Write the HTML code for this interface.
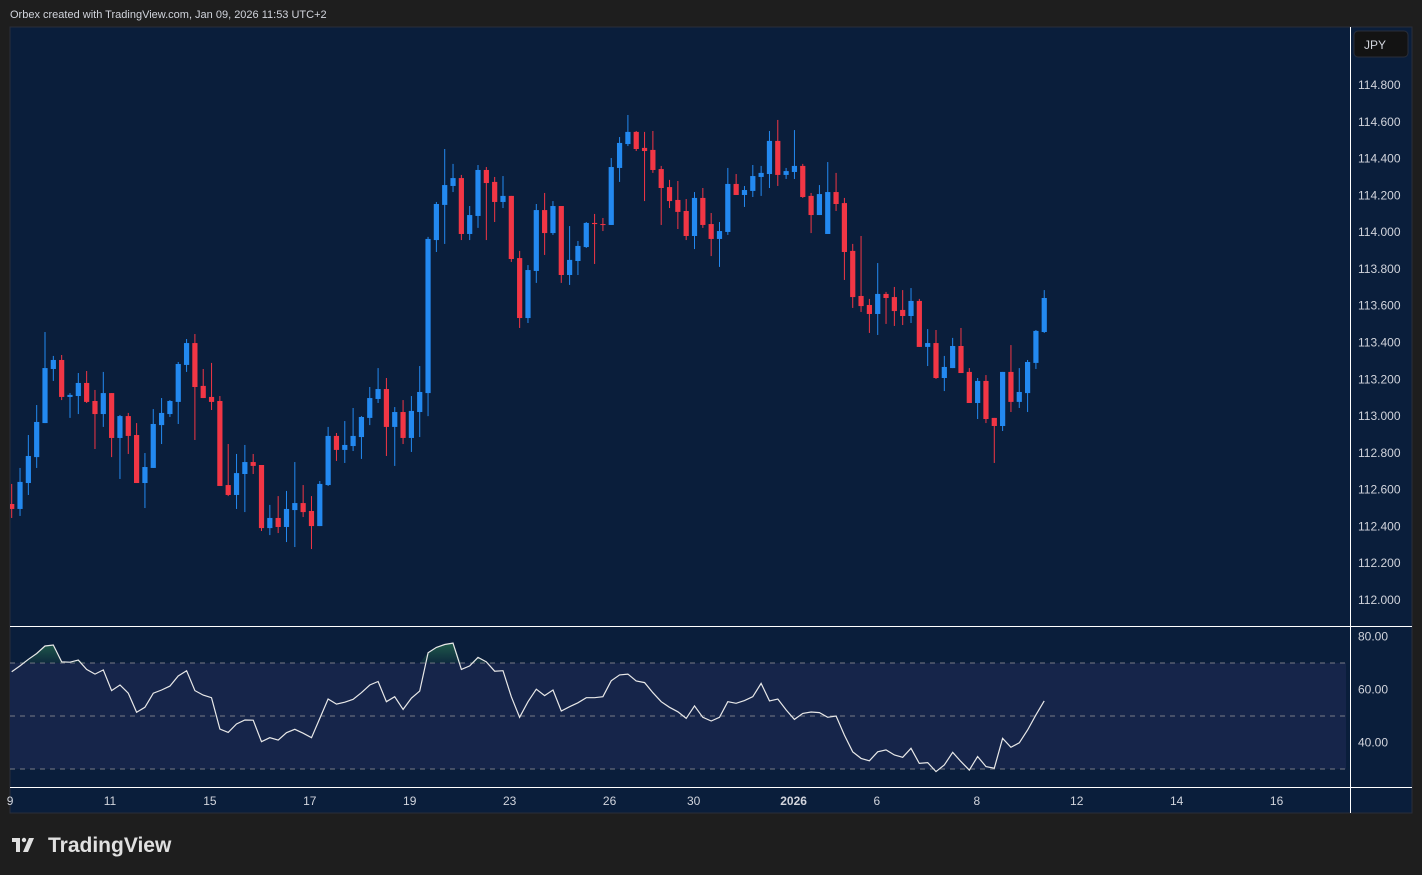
<!DOCTYPE html>
<html><head><meta charset="utf-8"><style>
html,body{margin:0;padding:0;background:#1e1e1e;width:1422px;height:875px;overflow:hidden;font-family:"Liberation Sans",sans-serif}
svg{display:block}
</style></head><body>
<svg id="c" width="1422" height="875" xmlns="http://www.w3.org/2000/svg">
<rect x="0" y="0" width="1422" height="875" fill="#1e1e1e"/>
<text x="10" y="18" fill="#d1d4dc" font-size="11">Orbex created with TradingView.com, Jan 09, 2026 11:53 UTC+2</text>
<rect x="10" y="27" width="1402" height="786" fill="#0a1e3b" stroke="#2a2e39" stroke-width="1"/>
<g id="rsiband"></g>
<g id="grid"></g>
<g id="candles"></g>
<g id="rsi"></g>
<line x1="10" y1="626.5" x2="1412" y2="626.5" stroke="#ffffff" stroke-width="1"/>
<line x1="10" y1="787.5" x2="1412" y2="787.5" stroke="#ffffff" stroke-width="1"/>
<line x1="1350.5" y1="27" x2="1350.5" y2="813" stroke="#ffffff" stroke-width="1"/>
<g id="axes"></g>
<rect x="1354" y="31" width="54" height="26" rx="4" fill="#131313" stroke="#2a2e39"/>
<text x="1364" y="49" fill="#d1d4dc" font-size="12">JPY</text>
<g>
<rect x="12" y="838" width="8" height="4" fill="#e0e0e0"/>
<rect x="16" y="838" width="4" height="14" fill="#e0e0e0"/>
<circle cx="24" cy="840" r="2.2" fill="#e0e0e0"/>
<polygon points="29,838 34,838 28,852 23,852" fill="#e0e0e0"/>
<text x="48" y="852" fill="#e0e0e0" font-size="21" font-weight="bold">TradingView</text>
</g>
</svg>
<script>
const opens=[112.522,112.495,112.636,112.777,112.962,113.256,113.305,113.104,113.109,113.180,113.082,113.011,113.125,112.881,113.000,112.897,112.636,112.718,112.951,113.011,113.077,113.278,113.397,113.164,113.104,113.082,112.625,112.571,112.685,112.750,112.734,112.391,112.446,112.397,112.489,112.527,112.484,112.402,112.625,112.892,112.816,112.837,112.886,112.990,113.093,113.147,112.941,113.022,112.881,113.022,113.125,113.957,114.148,114.251,114.294,113.990,114.088,114.338,114.273,114.164,114.197,113.859,113.533,113.789,114.120,113.995,114.142,113.767,113.843,113.919,114.050,114.044,114.039,114.349,114.479,114.545,114.458,114.447,114.343,114.245,114.175,114.115,113.979,114.186,114.044,113.963,114.001,114.262,114.202,114.224,114.300,114.316,114.496,114.311,114.327,114.360,114.197,114.093,113.990,114.218,114.158,113.898,113.653,113.604,113.555,113.664,113.647,113.577,113.544,113.626,113.376,113.397,113.207,113.261,113.381,113.240,113.071,113.191,112.990,112.946,113.240,113.077,113.125,113.289,113.457];
const highs=[112.631,112.718,112.897,113.060,113.457,113.327,113.332,113.125,113.234,113.245,113.142,113.240,113.125,113.006,113.017,112.962,112.799,113.038,113.098,113.087,113.294,113.419,113.446,113.256,113.289,113.109,112.848,112.794,112.843,112.794,112.734,112.517,112.565,112.593,112.750,112.625,112.565,112.647,112.941,112.908,112.973,113.044,113.000,113.158,113.261,113.207,113.049,113.087,113.109,113.272,113.974,114.164,114.452,114.371,114.311,114.142,114.365,114.354,114.300,114.305,114.197,113.898,113.821,114.153,114.213,114.169,114.142,114.033,113.952,114.055,114.099,114.077,114.403,114.517,114.637,114.550,114.545,114.550,114.360,114.284,114.278,114.180,114.218,114.240,114.104,114.055,114.349,114.316,114.251,114.365,114.360,114.550,114.610,114.349,114.555,114.371,114.213,114.256,114.381,114.322,114.186,113.936,113.979,113.637,113.832,113.675,113.702,113.685,113.696,113.637,113.473,113.468,113.327,113.425,113.479,113.261,113.207,113.223,112.990,113.240,113.386,113.261,113.305,113.468,113.685];
const lows=[112.446,112.457,112.571,112.718,112.962,113.191,113.087,112.990,113.011,113.071,112.821,112.941,112.777,112.658,112.794,112.636,112.500,112.718,112.848,112.995,112.957,113.240,112.870,113.098,113.033,112.620,112.565,112.495,112.478,112.685,112.375,112.353,112.364,112.315,112.288,112.451,112.277,112.402,112.620,112.756,112.745,112.810,112.767,112.951,113.071,112.783,112.729,112.848,112.805,112.886,113.000,113.892,113.936,114.218,113.957,113.957,114.023,113.957,114.055,114.131,113.838,113.479,113.506,113.724,113.876,113.985,113.724,113.713,113.767,113.914,113.827,114.006,114.039,114.273,114.468,114.441,114.169,114.322,114.039,114.131,114.017,113.957,113.908,114.023,113.870,113.811,113.985,114.202,114.137,114.191,114.197,114.240,114.251,114.289,114.289,114.186,113.995,114.093,113.990,114.115,113.740,113.588,113.566,113.452,113.441,113.501,113.490,113.495,113.506,113.376,113.272,113.202,113.136,113.261,113.234,113.071,112.984,112.962,112.745,112.919,113.022,113.044,113.022,113.256,113.452];
const closes=[112.495,112.642,112.783,112.968,113.261,113.305,113.104,113.115,113.180,113.077,113.011,113.125,112.881,113.000,112.892,112.636,112.723,112.957,113.017,113.082,113.283,113.397,113.158,113.098,113.077,112.620,112.571,112.690,112.750,112.729,112.391,112.446,112.397,112.495,112.527,112.478,112.402,112.631,112.892,112.816,112.843,112.892,112.995,113.098,113.147,112.941,113.022,112.881,113.028,113.131,113.963,114.153,114.256,114.294,113.990,114.093,114.338,114.267,114.164,114.197,113.854,113.533,113.794,114.120,113.995,114.142,113.767,113.849,113.925,114.050,114.044,114.039,114.354,114.485,114.545,114.452,114.441,114.338,114.240,114.169,114.110,113.979,114.186,114.039,113.963,114.006,114.262,114.202,114.229,114.305,114.322,114.496,114.311,114.332,114.360,114.191,114.093,114.207,114.218,114.153,113.892,113.647,113.598,113.555,113.664,113.642,113.571,113.544,113.626,113.376,113.397,113.207,113.267,113.381,113.234,113.071,113.191,112.984,112.946,113.240,113.077,113.131,113.294,113.463,113.642];
const rsiValues=[66.7,68.9,71.4,73.6,76.4,76.8,70.4,70.3,71.1,67.6,65.8,67.4,59.6,61.7,58.6,51.4,53.3,58.6,59.8,61.3,65.1,67.1,59.6,57.9,56.9,45.1,43.8,47.0,48.5,48.4,40.3,41.8,40.9,43.7,45.0,43.5,41.8,49.1,56.4,54.5,55.2,56.3,58.8,61.7,63.0,55.4,57.3,52.5,56.7,59.4,73.9,75.9,77.0,77.5,67.6,68.9,72.1,70.4,66.9,67.1,57.3,49.5,55.4,60.1,57.7,59.8,51.9,53.5,55.0,56.9,56.9,57.3,63.3,65.5,65.8,63.2,62.6,58.8,55.4,53.3,51.6,49.1,53.8,49.5,48.1,49.5,55.4,54.8,55.8,57.3,62.3,55.7,56.4,52.3,48.7,51.0,51.5,51.3,49.5,50.0,42.8,36.5,34.0,33.1,36.5,37.2,35.3,34.4,37.8,32.1,32.4,29.0,31.5,36.3,32.8,29.6,34.7,30.9,30.3,41.6,38.2,39.9,44.7,50.4,55.7];
const priceTicks=[112.0,112.2,112.4,112.6,112.8,113.0,113.2,113.4,113.6,113.8,114.0,114.2,114.4,114.6,114.8];
const rsiTicks=[80,60,40];
const rsiLevels=[70,50,30];
const timeLabels=["9","11","15","17","19","23","26","30","2026","6","8","12","14","16"];
const timeLabelIdx=[-0.2,11.8,23.8,35.8,47.8,59.8,71.8,81.9,93.9,103.9,115.9,127.9,139.9,151.9];

const NS="http://www.w3.org/2000/svg";
const X0=11.7, DX=8.327;
const xAt=i=>X0+DX*i;
const yP=p=>600-(p-112)*183.93;
const yR=v=>716-(v-50)*2.65;
function mk(tag,attrs,parent){const e=document.createElementNS(NS,tag);for(const k in attrs)e.setAttribute(k,attrs[k]);parent.appendChild(e);return e;}
const clipDefs=mk('defs',{},document.getElementById('c'));
const cp=mk('clipPath',{id:'mainclip'},clipDefs);mk('rect',{x:10,y:27,width:1340,height:599},cp);
const cp2=mk('clipPath',{id:'rsiclip'},clipDefs);mk('rect',{x:10,y:627,width:1340,height:160},cp2);

const axes=document.getElementById('axes');
priceTicks.forEach(p=>{
  const t=mk('text',{x:1358,y:yP(p)+4,fill:'#d1d4dc','font-size':12},axes);
  t.textContent=p.toFixed(3);
  
  
});
rsiTicks.forEach(v=>{
  const t=mk('text',{x:1358,y:yR(v)+4,fill:'#d1d4dc','font-size':12},axes);
  t.textContent=v.toFixed(2);
  
  
});
timeLabels.forEach((s,k)=>{
  const t=mk('text',{x:xAt(timeLabelIdx[k]),y:805,fill:'#d1d4dc','font-size':12,'text-anchor':'middle','font-weight':s==='2026'?'bold':'normal'},axes);
  t.textContent=s;
  
  
});

const cg=document.getElementById('candles');cg.setAttribute('clip-path','url(#mainclip)');
opens.forEach((o,i)=>{
  const c=closes[i],up=c>=o,col=up?'#2389f0':'#f23645',x=xAt(i);
  const g=mk('g',{},cg);
  
  
  mk('line',{x1:x,x2:x,y1:yP(highs[i]),y2:yP(lows[i]),stroke:col,'stroke-width':1},g);
  const t=yP(Math.max(o,c)),b=yP(Math.min(o,c));
  mk('rect',{x:x-2.6,y:t,width:5.2,height:Math.max(1,b-t),fill:col},g);
});

const band=document.getElementById('rsiband');
const bandRect=mk('rect',{x:10,y:yR(70),width:1336,height:yR(30)-yR(70),fill:'#16254a'},band);


rsiLevels.forEach(v=>{
  const l=mk('line',{x1:10,x2:1346,y1:yR(v),y2:yR(v),stroke:'#787b86','stroke-width':1,'stroke-dasharray':'5,5'},band);
  
  
});
const rg=document.getElementById('rsi');rg.setAttribute('clip-path','url(#rsiclip)');
const gr=mk('linearGradient',{id:'obg',x1:0,y1:0,x2:0,y2:1},clipDefs);
mk('stop',{offset:'0','stop-color':'#1f5a4a'},gr);mk('stop',{offset:'1','stop-color':'#1f5a4a','stop-opacity':'0.2'},gr);
const cp3=mk('clipPath',{id:'obclip'},clipDefs);mk('rect',{x:10,y:627,width:1340,height:yR(70)-627},cp3);
let area='M'+xAt(0)+','+yR(70);
rsiValues.forEach((v,i)=>{area+=' L'+xAt(i)+','+Math.min(yR(v),yR(70));});
area+=' L'+xAt(rsiValues.length-1)+','+yR(70)+'Z';
const ob=mk('path',{d:area,fill:'url(#obg)','clip-path':'url(#obclip)'},rg);


const pts=rsiValues.map((v,i)=>xAt(i).toFixed(1)+','+yR(v).toFixed(1)).join(' ');
const pl=mk('polyline',{points:pts,fill:'none',stroke:'#e8e8e8','stroke-width':1.2},rg);


</script>
</body></html>
